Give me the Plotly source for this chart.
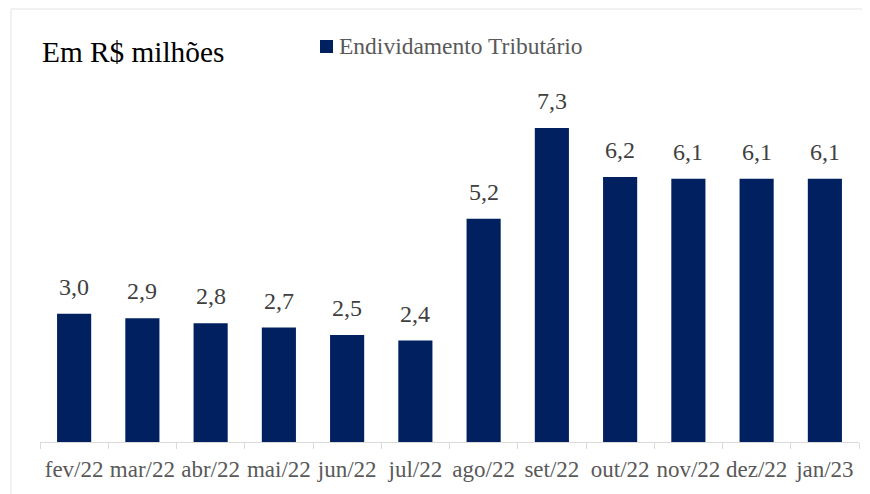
import plotly.graph_objects as go

categories = ["fev/22", "mar/22", "abr/22", "mai/22", "jun/22", "jul/22",
              "ago/22", "set/22", "out/22", "nov/22", "dez/22", "jan/23"]
values = [2.98, 2.88, 2.76, 2.66, 2.49, 2.36, 5.19, 7.30, 6.16, 6.12, 6.12, 6.12]
series_name = "Endividamento Tributário"
title_text = "Em R$ milhões"

BAR = "#002060"
FONT = "Liberation Serif"

# page body has an 8px margin, so the figure is drawn 8px right/down
OFF = 8
W, H = 870 - OFF, 494 - OFF
ML, MR, MT, MB = 40 - OFF, 11, 40 - OFF, 52
PW = W - ML - MR
PH = H - MT - MB


def px(x):
    return (x - OFF - ML) / PW


def py(y):
    return (H - MB - (y - OFF)) / PH


def fmt(v):
    return f"{v:.1f}".replace(".", ",")


fig = go.Figure()
fig.add_trace(go.Bar(
    x=categories, y=values, name=series_name,
    marker=dict(color=BAR, line=dict(width=0)),
    showlegend=False,
    hovertemplate="%{x}: %{y:.1f}<extra></extra>",
))

label_annotations = [
    dict(text=fmt(v), x=c, y=v, xref="x", yref="y",
         xanchor="center", yanchor="bottom", yshift=12, showarrow=False,
         font=dict(family=FONT, size=24, color="#404040"))
    for c, v in zip(categories, values)
]

fig.update_layout(
    width=W, height=H,
    margin=dict(l=ML, r=MR, t=MT, b=MB, autoexpand=False),
    paper_bgcolor="white", plot_bgcolor="white",
    separators=",.",
    bargap=0.5,
    font=dict(family=FONT),
    xaxis=dict(
        showline=True, linecolor="#d9d9d9", linewidth=1,
        ticks="outside", tickson="boundaries", ticklen=6, tickcolor="#d9d9d9",
        tickfont=dict(family=FONT, size=23, color="#595959"),
        ticklabelstandoff=6,
        tickangle=0, automargin=False,
        showgrid=False, zeroline=False,
    ),
    yaxis=dict(
        range=[0, PH / 43.0], visible=False, showgrid=False, zeroline=False,
        automargin=False,
    ),
    shapes=[
        dict(type="line", xref="paper", yref="paper",
             x0=px(11), x1=px(875), y0=py(9), y1=py(9),
             line=dict(color="#e3e3e3", width=1)),
        dict(type="line", xref="paper", yref="paper",
             x0=px(11), x1=px(11), y0=py(9), y1=py(500),
             line=dict(color="#e3e3e3", width=1)),
        dict(type="rect", xref="paper", yref="paper",
             x0=px(320), x1=px(333), y0=py(53), y1=py(40),
             fillcolor=BAR, line=dict(width=0)),
    ],
    annotations=[
        dict(text=title_text, xref="paper", yref="paper",
             x=px(40), y=py(52), xanchor="left", yanchor="middle",
             showarrow=False, font=dict(family=FONT, size=29.3, color="#000000")),
        dict(text=series_name, xref="paper", yref="paper",
             x=px(337), y=py(46), xanchor="left", yanchor="middle",
             showarrow=False, font=dict(family=FONT, size=23.5, color="#595959")),
    ] + label_annotations,
)

fig.write_html("out.html")
